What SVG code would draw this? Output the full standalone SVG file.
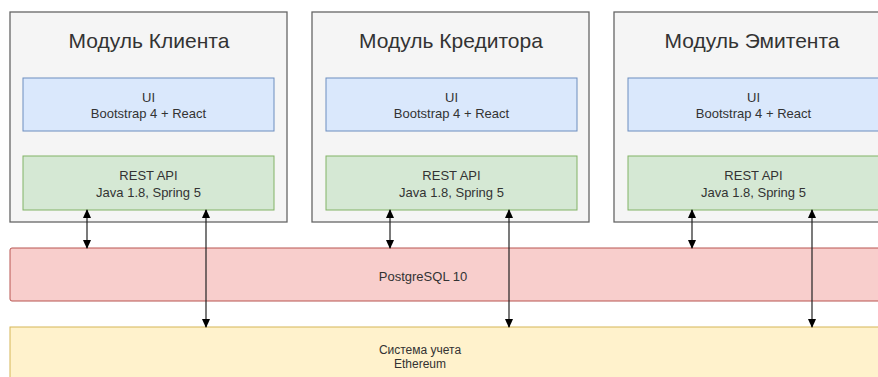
<svg xmlns="http://www.w3.org/2000/svg" width="878" height="377" viewBox="0 0 878 377">
<defs>
<style>
.mod{fill:#f5f5f5;stroke:#666666;stroke-width:1.3}
.ui{fill:#dae8fc;stroke:#6c8ebf;stroke-width:1}
.api{fill:#d5e8d4;stroke:#82b366;stroke-width:1}
.db{fill:#f8cecc;stroke:#b85450;stroke-width:1}
.eth{fill:#fff2cc;stroke:#d6b656;stroke-width:1}
.title{font-family:"Liberation Sans",Arial,sans-serif;font-size:21px;fill:#333333;text-anchor:middle}
.lbl{font-family:"Liberation Sans",Arial,sans-serif;font-size:13px;fill:#333333;text-anchor:middle}
.lbl2{font-family:"Liberation Sans",Arial,sans-serif;font-size:12px;fill:#333333;text-anchor:middle}
.conn{stroke:#222222;stroke-width:1.2;fill:none;marker-start:url(#ah);marker-end:url(#ah)}
</style>
<marker id="ah" viewBox="0 0 10 10" refX="9" refY="5" markerWidth="9" markerHeight="9" orient="auto-start-reverse" markerUnits="userSpaceOnUse">
<path d="M0,0.5 L10,5 L0,9.5 Z" fill="#000000"/>
</marker>
</defs>
<g id="eth">
<rect class="eth" x="10" y="327" width="880" height="70"/>
<text class="lbl2" x="420" y="353.5">Система учета</text>
<text class="lbl2" x="420" y="367.5">Ethereum</text>
</g>
<g id="postgres">
<rect class="db" x="10" y="248" width="880" height="53" rx="2"/>
<text class="lbl" x="423" y="280.5">PostgreSQL 10</text>
</g>
<g id="mod-client">
<rect class="mod" x="10" y="12" width="277" height="210"/>
<text class="title" x="149" y="48">Модуль Клиента</text>
<rect class="ui" x="23" y="78" width="251" height="53"/>
<text class="lbl" x="148.5" y="101.5">UI</text>
<text class="lbl" x="148.5" y="117.5">Bootstrap 4 + React</text>
<rect class="api" x="23" y="156" width="251" height="54"/>
<text class="lbl" x="148.5" y="179.5">REST API</text>
<text class="lbl" x="148.5" y="196.5">Java 1.8, Spring 5</text>
</g>
<g id="mod-creditor">
<rect class="mod" x="312" y="12" width="277" height="210"/>
<text class="title" x="451" y="48">Модуль Кредитора</text>
<rect class="ui" x="326" y="78" width="251" height="53"/>
<text class="lbl" x="451.5" y="101.5">UI</text>
<text class="lbl" x="451.5" y="117.5">Bootstrap 4 + React</text>
<rect class="api" x="326" y="156" width="251" height="54"/>
<text class="lbl" x="451.5" y="179.5">REST API</text>
<text class="lbl" x="451.5" y="196.5">Java 1.8, Spring 5</text>
</g>
<g id="mod-emitent">
<rect class="mod" x="614" y="12" width="277" height="210"/>
<text class="title" x="752" y="48">Модуль Эмитента</text>
<rect class="ui" x="628" y="78" width="251" height="53"/>
<text class="lbl" x="753.5" y="101.5">UI</text>
<text class="lbl" x="753.5" y="117.5">Bootstrap 4 + React</text>
<rect class="api" x="628" y="156" width="251" height="54"/>
<text class="lbl" x="753.5" y="179.5">REST API</text>
<text class="lbl" x="753.5" y="196.5">Java 1.8, Spring 5</text>
</g>
<g id="connectors">
<line class="conn" x1="87" y1="210" x2="87" y2="248"/>
<line class="conn" x1="206" y1="210" x2="206" y2="327"/>
<line class="conn" x1="390" y1="210" x2="390" y2="248"/>
<line class="conn" x1="509" y1="210" x2="509" y2="327"/>
<line class="conn" x1="692" y1="210" x2="692" y2="248"/>
<line class="conn" x1="812" y1="210" x2="812" y2="327"/>
</g>
</svg>
